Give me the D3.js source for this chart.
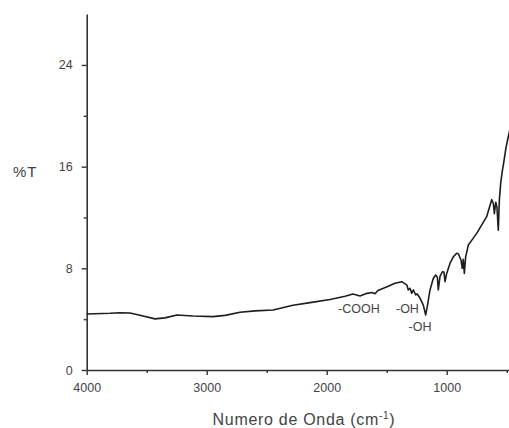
<!DOCTYPE html>
<html><head><meta charset="utf-8">
<script src="https://cdn.jsdelivr.net/npm/d3@7"></script>
<style>
html,body{margin:0;padding:0;background:#fff;}
svg{display:block;font-family:"Liberation Sans",Arial,sans-serif;}
</style></head>
<body>
<svg id="chart" width="509" height="428"></svg>
<script>
const wavenumber = [4000,3806,3722,3639,3556,3431,3348,3248,3114,2947,2847,2722,2597,2447,2281,2139,1972,1847,1781,1722,1664,1622,1598,1573,1497,1431,1375,1333,1320,1306,1292,1278,1258,1247,1222,1195,1175,1162,1139,1112,1092,1078,1070,1056,1037,1023,1014,1000,972,945,917,903,881,870,862,853,842,820,792,750,667,625,611,603,591,581,570,561,550,539,522,506,487,464];
const transmittance = [4.41,4.46,4.5,4.48,4.3,4.02,4.1,4.33,4.25,4.2,4.3,4.54,4.65,4.72,5.1,5.3,5.55,5.8,5.98,5.82,6.03,6.1,6.0,6.25,6.55,6.82,6.95,6.7,6.3,6.43,6.03,6.3,5.9,6.0,5.64,5.1,4.33,4.98,6.3,7.2,7.47,7.3,6.3,7.34,7.73,7.7,6.95,7.6,8.4,8.9,9.18,9.15,8.65,8.0,8.7,7.6,8.9,9.83,10.2,10.75,12.06,13.4,13.1,12.3,13.2,12.8,11.0,13.4,14.7,15.5,16.5,17.5,18.35,19.3];
const xMajorTicks = [4000,3000,2000,1000];
const xMinorTicks = [3500,2500,1500,500];
const yMajorTicks = [0,8,16,24];
const yMinorTicks = [4,12,20];
const annotations = [
  {text:"-COOH", wn:1731, t:4.45},
  {text:"-OH", wn:1327, t:4.45},
  {text:"-OH", wn:1222, t:3.05}
];

const svg = d3.select("#chart");
const x = d3.scaleLinear().domain([4000,400]).range([86.7,518.7]);
const y = d3.scaleLinear().domain([0,28]).range([370,14.1]);
const axisColor = "#333";
const textColor = "#444";

// x axis
const gx = svg.append("g").attr("transform",`translate(0,${y(0)})`);
gx.call(d3.axisBottom(x).tickValues(xMajorTicks).tickSize(5).tickSizeOuter(0).tickPadding(8).tickFormat(d3.format("d")));
gx.append("g").call(d3.axisBottom(x).tickValues(xMinorTicks).tickSize(3).tickSizeOuter(0).tickFormat(""))
  .select(".domain").remove();
// y axis
const gy = svg.append("g").attr("transform",`translate(${x(4000)},0)`);
gy.call(d3.axisLeft(y).tickValues(yMajorTicks).tickSize(5).tickSizeOuter(0).tickPadding(9));
gy.append("g").call(d3.axisLeft(y).tickValues(yMinorTicks).tickSize(3).tickSizeOuter(0).tickFormat(""))
  .select(".domain").remove();

svg.selectAll(".domain").attr("stroke",axisColor).attr("stroke-width",1.6);
svg.selectAll(".tick line").attr("stroke",axisColor).attr("stroke-width",1.4);
svg.selectAll(".tick text").attr("fill",textColor).style("font-size","12.5px").style("font-family","'Liberation Sans',Arial,sans-serif");

// line
const data = wavenumber.map((w,i)=>({w, t:transmittance[i]}));
svg.append("path").datum(data)
  .attr("fill","none").attr("stroke","#1e1e1e").attr("stroke-width",1.6).attr("stroke-linejoin","round")
  .attr("d", d3.line().x(d=>x(d.w)).y(d=>y(d.t)));

// annotations
svg.selectAll(".ann").data(annotations).enter().append("text")
  .attr("x",d=>x(d.wn)).attr("y",d=>y(d.t)).attr("text-anchor","middle")
  .attr("fill",textColor).style("font-size","12.5px").text(d=>d.text);

// axis titles
svg.append("text").attr("x",13).attr("y",177).attr("fill",textColor)
  .style("font-size","15px").style("letter-spacing","1px").text("%T");
const xt = svg.append("text").attr("x",304).attr("y",425).attr("text-anchor","middle")
  .attr("fill",textColor).style("font-size","16px").style("letter-spacing","0.7px");
xt.append("tspan").text("Numero de Onda (cm");
xt.append("tspan").attr("dy",-6).style("font-size","10px").text("-1");
xt.append("tspan").attr("dy",6).text(")");
</script>
</body></html>
